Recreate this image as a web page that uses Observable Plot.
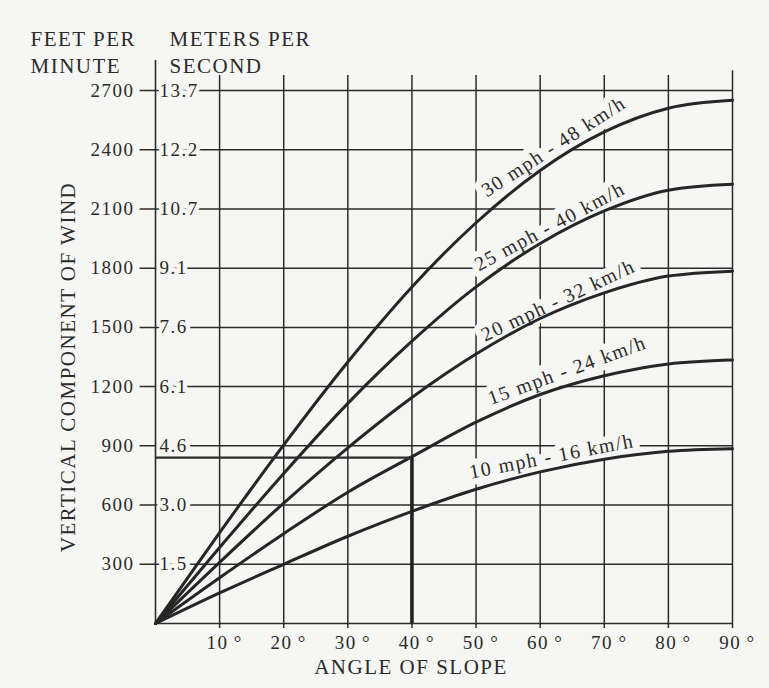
<!DOCTYPE html>
<html>
<head>
<meta charset="utf-8">
<script src="https://cdn.jsdelivr.net/npm/d3@7"></script>
<script src="https://cdn.jsdelivr.net/npm/@observablehq/plot@0.6"></script>
<style>
  html, body { margin: 0; padding: 0; background: #f6f6f4; }
  svg text { letter-spacing: 1.5px; }
</style>
</head>
<body>
<div id="chart"></div>
<script>
// ---- data ----
const angles = [0, 10, 20, 30, 40, 50, 60, 70, 80, 90];
const mph30 = [0, 460, 905, 1325, 1705, 2030, 2295, 2490, 2610, 2650];
const mph25 = [0, 385, 760, 1115, 1430, 1705, 1925, 2090, 2195, 2225];
const mph20 = [0, 310, 610, 890, 1145, 1365, 1545, 1675, 1760, 1785];
const mph15 = [0, 232, 455, 665, 845, 1020, 1160, 1255, 1315, 1335];
const mph10 = [0, 155, 300, 442, 568, 680, 768, 832, 872, 885];
const seriesNames = ["30 mph - 48 km/h", "25 mph - 40 km/h", "20 mph - 32 km/h", "15 mph - 24 km/h", "10 mph - 16 km/h"];
const seriesValues = [mph30, mph25, mph20, mph15, mph10];

const feetTicks = [300, 600, 900, 1200, 1500, 1800, 2100, 2400, 2700];
const meterLabels = ["1.5", "3.0", "4.6", "6.1", "7.6", "9.1", "10.7", "12.2", "13.7"];
const angleTicks = [10, 20, 30, 40, 50, 60, 70, 80, 90];

// curve label placement (angle, value at label centre, text rotation)
const labelAngle = [62.1, 61.5, 62.8, 64.2, 61.8];
const labelValue = [2416, 2011, 1636, 1282, 846];
const labelRotate = [-33, -28, -25, -20, -11];

// worked example: 15 mph at 40 degrees
const exampleAngle = 40;
const exampleValue = 840;

// ---- build ----
const ink = "#2b2b2b";
const bg = "#f6f6f4";
const font = "'Liberation Serif', 'Times New Roman', serif";

const rows = seriesNames.flatMap((name, i) =>
  angles.map((a, j) => ({name, angle: a, value: seriesValues[i][j]})));
const labels = seriesNames.map((name, i) => ({name, angle: labelAngle[i], value: labelValue[i], rotate: labelRotate[i]}));

const chart = Plot.plot({
  width: 769,
  height: 688,
  marginLeft: 155,
  marginRight: 37,
  marginTop: 90,
  marginBottom: 65,
  x: {domain: [0, 90], axis: null},
  y: {domain: [0, 2700], axis: null},
  style: {background: bg, fontFamily: font, color: ink, overflow: "visible"},
  marks: [
    // horizontal grid (with the tick crossing the left axis)
    Plot.ruleY(feetTicks, {x1: -2.4, x2: 90, stroke: ink, strokeWidth: 1.5}),
    Plot.ruleY([0], {x1: 0, x2: 90, stroke: ink, strokeWidth: 1.6}),
    // vertical grid
    Plot.ruleX(angleTicks, {y1: -25, y2: d => d === 90 ? 2800 : 2776, stroke: ink, strokeWidth: 1.5}),
    // y tick labels with halos
    Plot.text(feetTicks, {x: 0, y: d => d, text: d => String(d), textAnchor: "end", dx: -21,
      fontSize: 19, fill: ink, stroke: bg, strokeWidth: 9, strokeLinejoin: "round"}),
    Plot.text(feetTicks, {x: 0, y: d => d, text: (d, i) => meterLabels[i], textAnchor: "start", dx: 4,
      fontSize: 19, fill: ink, stroke: bg, strokeWidth: 9, strokeLinejoin: "round"}),
    // curve labels with halos
    Plot.text(labels, {x: "angle", y: "value", text: "name", rotate: "rotate",
      fontSize: 20, fill: ink, stroke: bg, strokeWidth: 13, strokeLinejoin: "round"}),
    // left axis line
    Plot.ruleX([0], {y1: 0, y2: 2852, stroke: ink, strokeWidth: 1.6}),
    // curves
    Plot.line(rows, {x: "angle", y: "value", z: "name", curve: "monotone-x", stroke: "#262626", strokeWidth: 3}),
    // worked example
    Plot.ruleY([exampleValue], {x1: 0, x2: exampleAngle, stroke: ink, strokeWidth: 2.2}),
    Plot.ruleX([exampleAngle], {y1: 0, y2: exampleValue, stroke: "#222", strokeWidth: 3.6}),
    // x tick labels
    Plot.text(angleTicks, {x: d => d, y: 0, text: d => `${d}\u2009°`, dy: 19, dx: 5, fontSize: 19, fill: ink}),
    // axis titles
    Plot.text(["ANGLE OF SLOPE"], {frameAnchor: "bottom", textAnchor: "middle", dx: -33, dy: 50, fontSize: 21, fill: ink}),
    Plot.text(["VERTICAL COMPONENT OF WIND"], {frameAnchor: "left", textAnchor: "middle", dx: -87, dy: 10, rotate: -90, fontSize: 21, fill: ink}),
    Plot.text(["FEET PER\nMINUTE"], {frameAnchor: "top-left", dx: -125, dy: -18, lineAnchor: "bottom", lineHeight: 1.25, textAnchor: "start", fontSize: 21, fill: ink}),
    Plot.text(["METERS PER\nSECOND"], {frameAnchor: "top-left", dx: 14, dy: -18, lineAnchor: "bottom", lineHeight: 1.25, textAnchor: "start", fontSize: 21, fill: ink})
  ]
});
document.getElementById("chart").append(chart);
</script>
</body>
</html>
